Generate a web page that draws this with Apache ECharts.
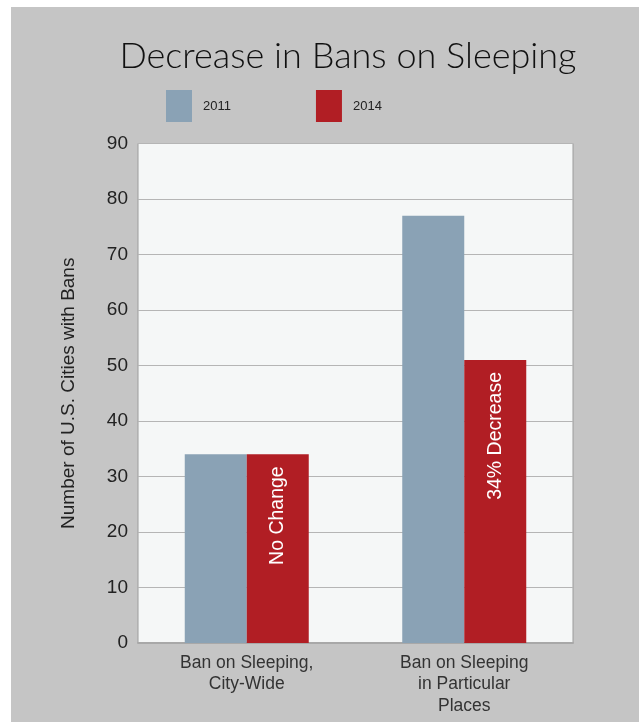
<!DOCTYPE html>
<html>
<head>
<meta charset="utf-8">
<script src="https://cdn.jsdelivr.net/npm/echarts@6/dist/echarts.min.js"></script>
<style>
html,body{margin:0;padding:0;background:#fff;}
#chart{width:639px;height:722px;}
</style>
</head>
<body>
<div id="chart"></div>
<script>
var categories = ['Ban on Sleeping,\nCity-Wide', 'Ban on Sleeping\nin Particular\nPlaces'];
var seriesNames = ['2011', '2014'];
var values2011 = [34, 77];
var values2014 = [34, 51];
var barNotes = ['No Change', '34% Decrease'];
var yTicks = [0, 10, 20, 30, 40, 50, 60, 70, 80, 90];

var chart = echarts.init(document.getElementById('chart'), null, {renderer: 'canvas'});
var option = {
  animation: false,
  backgroundColor: '#c5c5c5',
  graphic: [
    {type: 'rect', left: 0, top: 0, shape: {width: 639, height: 7}, style: {fill: '#ffffff'}, z: 100},
    {type: 'rect', left: 0, top: 0, shape: {width: 11, height: 722}, style: {fill: '#ffffff'}, z: 100}
  ],
  title: {
    text: 'Decrease in Bans on Sleeping',
    left: 343,
    textAlign: 'center',
    top: 33,
    textStyle: {fontFamily: 'Lato', fontWeight: 300, fontSize: 36, color: '#111'}
  },
  legend: {
    data: seriesNames,
    left: 161,
    top: 85,
    itemWidth: 26,
    itemHeight: 32,
    itemGap: 85,
    icon: 'rect',
    textStyle: {fontFamily: 'Liberation Sans', fontSize: 13, color: '#222', padding: [0, 0, 0, 6]}
  },
  grid: {
    left: 138, top: 143.5, right: 66, bottom: 79,
    show: true, backgroundColor: '#f5f7f7', borderColor: '#9c9c9c', borderWidth: 1,
    containLabel: false
  },
  xAxis: {
    type: 'category',
    data: categories,
    axisLine: {show: true, lineStyle: {color: '#a8a8a8', width: 2}},
    axisTick: {show: false},
    axisLabel: {fontFamily: 'Liberation Sans', fontSize: 17.5, lineHeight: 21.5, color: '#333', margin: 9}
  },
  yAxis: {
    type: 'value',
    min: yTicks[0], max: yTicks[yTicks.length - 1], interval: 10,
    name: 'Number of U.S. Cities with Bans',
    nameLocation: 'middle',
    nameGap: 60,
    nameRotate: 90,
    nameTextStyle: {fontFamily: 'Liberation Sans', fontSize: 19, color: '#222'},
    axisLine: {show: false},
    axisTick: {show: false},
    axisLabel: {fontFamily: 'Liberation Sans', fontSize: 19, color: '#222', margin: 10},
    splitLine: {lineStyle: {color: '#b5b5b5', width: 1}}
  },
  series: [
    {
      name: seriesNames[0], type: 'bar', data: values2011,
      barWidth: 62, barGap: '0%',
      itemStyle: {color: '#8aa2b5'}
    },
    {
      name: seriesNames[1], type: 'bar',
      data: values2014.map(function (v, i) {
        return {value: v, label: {formatter: barNotes[i]}};
      }),
      barWidth: 62,
      itemStyle: {color: '#b11e24'},
      label: {
        show: true, position: 'insideTop', rotate: 90, align: 'right', verticalAlign: 'middle',
        distance: 12, fontFamily: 'Liberation Sans', fontSize: 19.5, color: '#ffffff'
      }
    }
  ]
};
chart.setOption(option);
</script>
</body>
</html>
